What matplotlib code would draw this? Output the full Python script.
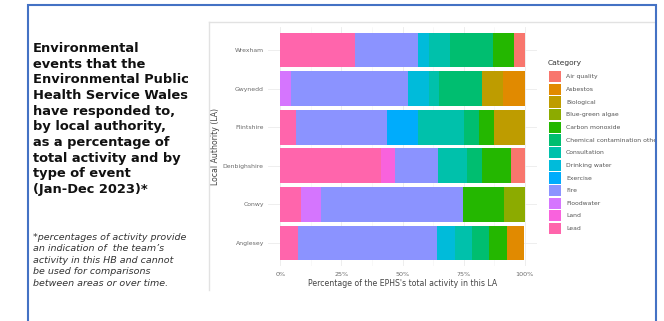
import matplotlib
matplotlib.use("Agg")
import matplotlib.pyplot as plt
import numpy as np
from matplotlib.patches import Rectangle

# local authorities, bottom to top
las = ["Anglesey", "Conwy", "Denbighshire", "Flintshire", "Gwynedd", "Wrexham"]

# share of EPHS activity (%) per event type, same order as las
lead = [7.1, 8.3, 41.2, 6.25, 0, 30.4]
land = [0, 0, 5.9, 0, 0, 0]
floodwater = [0, 8.3, 0, 0, 4.3, 0]
fire = [57.1, 58.3, 17.6, 37.5, 47.8, 26.1]
exercise = [0, 0, 0, 12.5, 0, 0]
drinking_water = [7.1, 0, 0, 0, 8.7, 4.3]
consultation = [7.1, 0, 11.8, 18.75, 4.3, 8.7]
chemical = [7.1, 0, 5.9, 6.25, 17.4, 17.4]
carbon_monoxide = [7.1, 16.7, 11.8, 6.25, 0, 8.7]
blue_green_algae = [0, 8.3, 0, 0, 0, 0]
biological = [0, 0, 0, 12.5, 8.7, 0]
asbestos = [7.1, 0, 0, 0, 8.7, 0]
air_quality = [0, 0, 5.9, 0, 0, 4.3]

categories = ["Air quality", "Asbestos", "Biological", "Blue-green algae",
              "Carbon monoxide", "Chemical contamination other", "Consultation",
              "Drinking water", "Exercise", "Fire", "Floodwater", "Land", "Lead"]
colors = ["#F8766D", "#E18A00", "#BE9C00", "#8CAB00", "#24B700", "#00BE70",
          "#00C1AB", "#00BBDA", "#00ACFC", "#8B93FF", "#D575FE", "#F962DD", "#FF65AC"]
series = [air_quality, asbestos, biological, blue_green_algae, carbon_monoxide,
          chemical, consultation, drinking_water, exercise, fire, floodwater, land, lead]

xticks = [0, 25, 50, 75, 100]
xticklabels = ["0%", "25%", "50%", "75%", "100%"]

title_lines = ["Environmental", "events that the", "Environmental Public",
               "Health Service Wales", "have responded to,", "by local authority,",
               "as a percentage of", "total activity and by", "type of event",
               "(Jan-Dec 2023)*"]
note_lines = ["*percentages of activity provide", "an indication of  the team\u2019s",
              "activity in this HB and cannot", "be used for comparisons",
              "between areas or over time."]

W, H = 664, 321
fig = plt.figure(figsize=(W / 100, H / 100), dpi=100)

# stacked bars, Lead on the left through Air quality on the right
ax = fig.add_axes([268 / W, 1 - 266 / H, (537 - 268) / W, (266 - 27) / H])
y = np.arange(1, len(las) + 1)
left = np.zeros(len(las))
for vals, c in zip(series[::-1], colors[::-1]):
    vals = np.array(vals, dtype=float)
    ax.barh(y, vals, left=left, height=0.9, color=c, linewidth=0, zorder=2)
    left += vals

ax.set_xlim(-5, 105)
ax.set_ylim(0.4, len(las) + 0.6)
ax.set_xticks(xticks)
ax.set_xticklabels(xticklabels)
ax.set_xticks([12.5, 37.5, 62.5, 87.5], minor=True)
ax.set_yticks(y)
ax.set_yticklabels(las)
ax.grid(True, which="major", color="#ebebeb", lw=0.6, zorder=0)
ax.grid(True, which="minor", axis="x", color="#f4f4f4", lw=0.4, zorder=0)
ax.tick_params(axis="x", length=0, labelsize=4.6, labelcolor="#6a6a6a", pad=4)
ax.tick_params(axis="y", length=0, labelsize=4.4, labelcolor="#6a6a6a", pad=3)
ax.tick_params(which="minor", length=0)
for s in ax.spines.values():
    s.set_visible(False)
ax.set_xlabel("Percentage of the EPHS's total activity in this LA",
              fontsize=5.6, color="#444444", labelpad=2)
ax.set_ylabel("Local Authority (LA)", fontsize=5.6, color="#444444", labelpad=2)

# overlay in pixel coordinates for the frame, text and legend
ov = fig.add_axes([0, 0, 1, 1])
ov.set_xlim(0, W)
ov.set_ylim(H, 0)
ov.axis("off")
ov.patch.set_alpha(0)

# legend
ov.text(548, 63, "Category", fontsize=5.4, color="#333333", va="center", ha="left")
for i, (cat, c) in enumerate(zip(categories, colors)):
    top = 71 + i * 12.65
    ov.add_patch(Rectangle((548.5, top), 12.5, 11.3, color=c, lw=0))
    ov.text(566, top + 5.8, cat, fontsize=4.4, color="#555555", va="center", ha="left")

# light grey edge of the chart panel
ov.plot([209, 209], [22, 290], color="#e2e2e2", lw=1)
ov.plot([209, 656], [22, 22], color="#e2e2e2", lw=1)

# cover anything beyond the blue frame
ov.add_patch(Rectangle((656, 0), 10, H, color="white", lw=0, zorder=5))

# blue frame
ov.plot([28, 28, 655.5, 655.5], [H + 2, 5, 5, H + 2], color="#4472C4", lw=1.5,
        zorder=6, solid_joinstyle="miter")

for i, line in enumerate(title_lines):
    ov.text(33, 52 + i * 15.65, line, fontsize=9.4, fontweight="bold",
            color="#111111", ha="left", va="baseline")
for i, line in enumerate(note_lines):
    ov.text(33, 240 + i * 11.4, line, fontsize=6.8, style="italic",
            color="#333333", ha="left", va="baseline")

fig.savefig("out.png", dpi=100)
